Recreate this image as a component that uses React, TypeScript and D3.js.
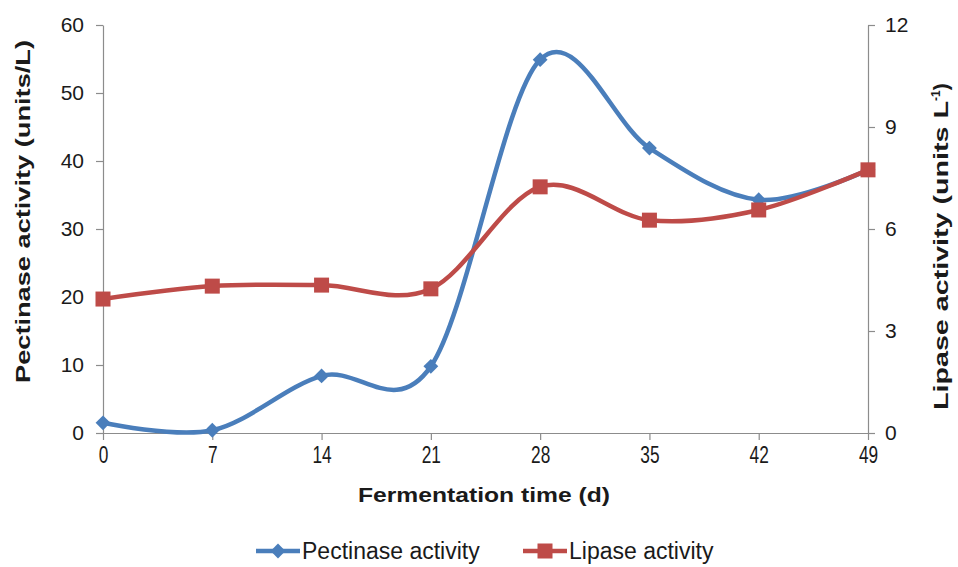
// Dependencies
import React, { useRef, useEffect } from "react";
import * as d3 from "d3";

// Data
const days = [0, 7, 14, 21, 28, 35, 42, 49];
const pectinase = [1.5, 0.4, 8.4, 9.8, 54.9, 41.9, 34.3, 38.7];
const lipase = [3.94, 4.32, 4.35, 4.24, 7.24, 6.26, 6.56, 7.74];
const leftTicks = [0, 10, 20, 30, 40, 50, 60];
const rightTicks = [0, 3, 6, 9, 12];

const BLUE = "#4A7EBB";
const RED = "#BE4B48";
const AXIS = "#8C8C8C";
const FONT = "'Liberation Sans', Arial, sans-serif";

const App: React.FC = () => {
  const chartRef = useRef<SVGSVGElement | null>(null);

  useEffect(() => {
    if (!chartRef.current) return;
    const svg = d3.select(chartRef.current);
    svg.selectAll("*").remove();

    const margin = { top: 25, right: 90, bottom: 134, left: 103 };
    const width = 958;
    const height = 567;
    const innerW = width - margin.left - margin.right;
    const innerH = height - margin.top - margin.bottom;

    const g = svg
      .append("g")
      .attr("transform", `translate(${margin.left},${margin.top})`);

    // Scales
    const x = d3.scaleLinear().domain([0, 49]).range([0, innerW]);
    const yL = d3.scaleLinear().domain([0, 60]).range([innerH, 0]);
    const yR = d3.scaleLinear().domain([0, 12]).range([innerH, 0]);

    // Axes
    const styleAxis = (sel: any, size: number) => {
      sel.select(".domain").attr("stroke", AXIS).attr("stroke-width", 1.2);
      sel.selectAll(".tick line").attr("stroke", AXIS).attr("stroke-width", 1.2);
      sel
        .selectAll(".tick text")
        .attr("fill", "#1a1a1a")
        .style("font-family", FONT)
        .style("font-size", `${size}px`);
    };

    g.append("g")
      .attr("transform", `translate(0,${innerH})`)
      .call(d3.axisBottom(x).tickValues(days).tickSize(7).tickSizeOuter(0).tickPadding(6))
      .call((s) => styleAxis(s, 24))
      .call((s) =>
        s.selectAll(".tick text").attr("transform", "scale(0.72,1)")
      );

    g.append("g")
      .call(d3.axisLeft(yL).tickValues(leftTicks).tickSize(7).tickSizeOuter(0).tickPadding(12))
      .call((s) => styleAxis(s, 21));

    g.append("g")
      .attr("transform", `translate(${innerW},0)`)
      .call(d3.axisRight(yR).tickValues(rightTicks).tickSize(7).tickSizeOuter(0).tickPadding(10))
      .call((s) => styleAxis(s, 21));

    // Axis titles (stretched like the original)
    svg
      .append("text")
      .attr("x", 358)
      .attr("y", 502)
      .attr("textLength", 252)
      .attr("lengthAdjust", "spacingAndGlyphs")
      .style("font-family", FONT)
      .style("font-size", "21px")
      .style("font-weight", "bold")
      .attr("fill", "#1a1a1a")
      .text("Fermentation time (d)");

    svg
      .append("text")
      .attr("transform", `translate(30,383) rotate(-90)`)
      .attr("textLength", 343)
      .attr("lengthAdjust", "spacingAndGlyphs")
      .style("font-family", FONT)
      .style("font-size", "21px")
      .style("font-weight", "bold")
      .attr("fill", "#1a1a1a")
      .text("Pectinase activity (units/L)");

    const rt = svg
      .append("text")
      .attr("transform", `translate(948,410) rotate(-90)`)
      .style("font-family", FONT)
      .style("font-size", "21px")
      .style("font-weight", "bold")
      .attr("fill", "#1a1a1a");
    rt.append("tspan")
      .attr("textLength", 309)
      .attr("lengthAdjust", "spacingAndGlyphs")
      .text("Lipase activity (units L");
    rt.append("tspan").attr("dy", -8).style("font-size", "12px").text("-1");
    rt.append("tspan").attr("dy", 8).text(")");

    // Lines
    const curve = d3.curveCardinal.tension(0);
    const lineL = d3
      .line<number>()
      .x((_, i) => x(days[i]))
      .y((d) => yL(d))
      .curve(curve);
    const lineR = d3
      .line<number>()
      .x((_, i) => x(days[i]))
      .y((d) => yR(d))
      .curve(curve);

    g.append("path")
      .datum(pectinase)
      .attr("d", lineL)
      .attr("fill", "none")
      .attr("stroke", BLUE)
      .attr("stroke-width", 4.5);

    g.append("path")
      .datum(lipase)
      .attr("d", lineR)
      .attr("fill", "none")
      .attr("stroke", RED)
      .attr("stroke-width", 4.5);

    // Markers (diamond = square turned 45deg)
    const diamond = d3.symbol().type(d3.symbolSquare).size(110);
    g.append("g")
      .selectAll("path")
      .data(pectinase)
      .join("path")
      .attr("d", diamond as any)
      .attr("transform", (d, i) => `translate(${x(days[i])},${yL(d)}) rotate(45)`)
      .attr("fill", BLUE);

    g.append("g")
      .selectAll("rect")
      .data(lipase)
      .join("rect")
      .attr("x", (_, i) => x(days[i]) - 7.5)
      .attr("y", (d) => yR(d) - 7.5)
      .attr("width", 15)
      .attr("height", 15)
      .attr("fill", RED);

    // Legend
    const legend = svg.append("g").attr("class", "legend");
    const items = [
      { label: "Pectinase activity", color: BLUE, x0: 256, shape: "diamond" },
      { label: "Lipase activity", color: RED, x0: 523, shape: "square" },
    ];
    const ly = 551;
    items.forEach((it) => {
      legend
        .append("line")
        .attr("x1", it.x0)
        .attr("x2", it.x0 + 44)
        .attr("y1", ly)
        .attr("y2", ly)
        .attr("stroke", it.color)
        .attr("stroke-width", 4.5);
      if (it.shape === "diamond") {
        legend
          .append("path")
          .attr("d", diamond as any)
          .attr("transform", `translate(${it.x0 + 22},${ly}) rotate(45)`)
          .attr("fill", it.color);
      } else {
        legend
          .append("rect")
          .attr("x", it.x0 + 22 - 7.5)
          .attr("y", ly - 7.5)
          .attr("width", 15)
          .attr("height", 15)
          .attr("fill", it.color);
      }
      legend
        .append("text")
        .attr("x", it.x0 + 46)
        .attr("y", ly + 8)
        .style("font-family", FONT)
        .style("font-size", "23px")
        .attr("fill", "#1a1a1a")
        .text(it.label);
    });
  }, []);

  return (
    <div style={{ position: "absolute", left: 0, top: 0 }}>
      <svg ref={chartRef} width={958} height={567} style={{ display: "block", background: "#fff" }} />
    </div>
  );
};

export default App;
